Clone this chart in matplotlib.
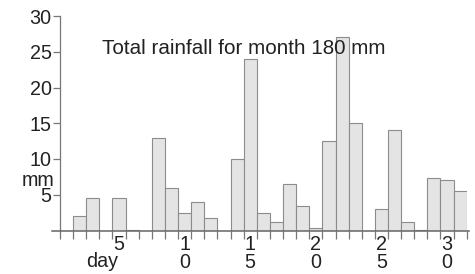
import matplotlib
matplotlib.use("Agg")
from matplotlib import pyplot as plt
import numpy as np

days = np.arange(1, 32)
rain = [0, 2, 4.5, 0, 4.5, 0.1, 0, 13, 6, 2.5,
        4, 1.7, 0, 10, 24, 2.4, 1.2, 6.5, 3.4, 0.3,
        12.5, 27, 15, 0, 3, 14, 1.2, 0.1, 7.4, 7.1, 5.5]
label_days = [5, 10, 15, 20, 25, 30]
y_ticks = [5, 10, 15, 20, 25, 30]
title = "Total rainfall for month 180 mm"

plt.rcParams['font.family'] = ['Liberation Sans', 'DejaVu Sans']
fs = 14.2

fig = plt.figure(figsize=(4.75, 2.74), dpi=100)
ax = fig.add_axes([60 / 475, 43.5 / 274, 406.7 / 475, 214.5 / 274])

ax.bar(days, rain, width=1, color="#e4e4e4", edgecolor="#8c8c8c",
       linewidth=0.8, zorder=2)

ax.set_xlim(0.5, 31.5)
ax.set_ylim(0, 30)

for s in ["top", "right", "bottom"]:
    ax.spines[s].set_visible(False)
ax.spines["left"].set_color("#777777")
ax.spines["left"].set_linewidth(0.9)

# baseline sticks out a bit left of the y axis
ax.plot([-0.1, 31.7], [0, 0], color="#666666", lw=1.1, clip_on=False, zorder=3)

ax.set_yticks(y_ticks)
ax.set_yticklabels([str(v) for v in y_ticks])
ax.tick_params(axis="y", length=5, width=0.9, color="#777777", pad=1,
               labelsize=fs, labelcolor="#222222")

ax.set_xticks(label_days)
ax.set_xticklabels(["\n".join(str(d)) for d in label_days], linespacing=0.93)
ax.set_xticks(np.arange(0.5, 32, 1), minor=True)
ax.tick_params(axis="x", which="major", length=0, pad=3,
               labelsize=fs, labelcolor="#222222")
ax.tick_params(axis="x", which="minor", length=6, width=0.9, color="#777777")

ax.set_xlabel("day", fontsize=fs, color="#222222")
ax.xaxis.set_label_coords(0.103, -0.1)
ax.set_ylabel("mm", fontsize=fs, color="#222222", rotation=0,
              ha="center", va="center")
ax.yaxis.set_label_coords(-0.054, 0.232)

ax.text(0.1025, 25.5, title, transform=ax.get_yaxis_transform(),
        fontsize=14.9, color="#222222", ha="left", va="center", zorder=4)

fig.savefig("out.png", dpi=100)
